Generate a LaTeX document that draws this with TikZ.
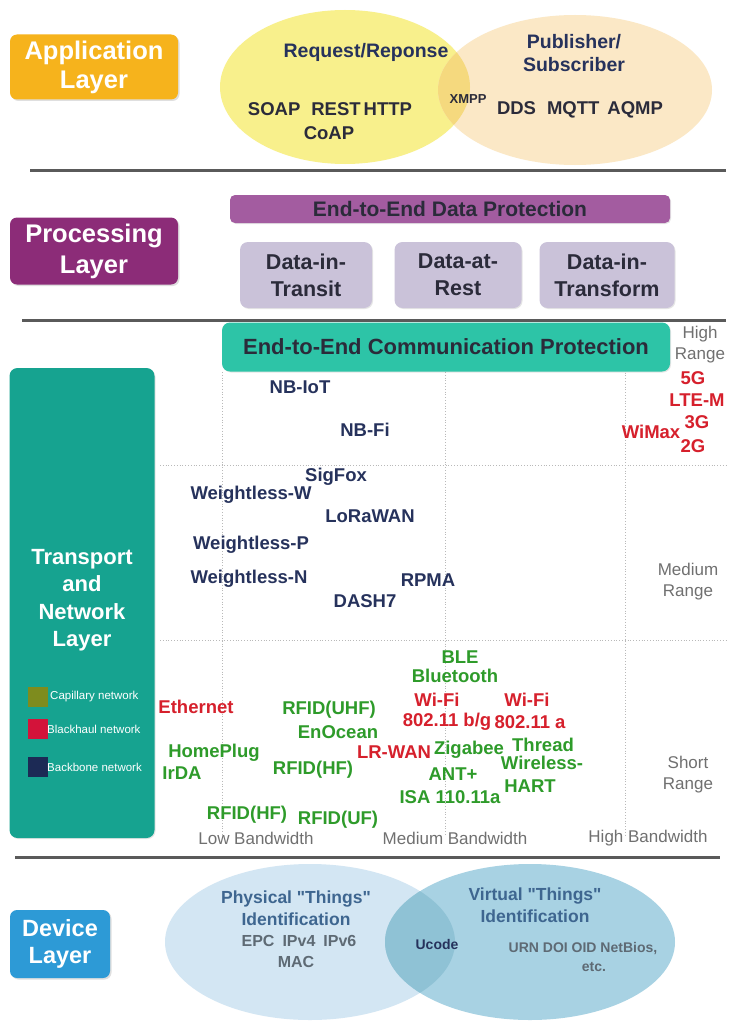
\documentclass[tikz,border=0pt]{standalone}
\usepackage{fontspec}
\setmainfont{Liberation Sans}
\usetikzlibrary{shadows}
\definecolor{appor}{HTML}{F6B31C}
\definecolor{procp}{HTML}{8C2C78}
\definecolor{barp}{HTML}{A35CA0}
\definecolor{datab}{HTML}{CAC2D9}
\definecolor{teal1}{HTML}{16A390}
\definecolor{teal2}{HTML}{2DC4A7}
\definecolor{devb}{HTML}{2D9AD6}
\definecolor{ely}{HTML}{F8F08C}
\definecolor{elp}{HTML}{FBE8C6}
\definecolor{elo}{HTML}{F5D97E}
\definecolor{dl}{HTML}{D3E6F3}
\definecolor{dr}{HTML}{A8D2E3}
\definecolor{dov}{HTML}{8FC2D5}
\definecolor{navy}{HTML}{26325C}
\definecolor{grn}{HTML}{2E9B2A}
\definecolor{redt}{HTML}{D6202C}
\definecolor{gryt}{HTML}{707070}
\definecolor{dtitle}{HTML}{3E6690}
\definecolor{dtext}{HTML}{5E6A74}
\definecolor{sepc}{HTML}{5A5A5A}
\definecolor{dark}{HTML}{2B2B3A}
\definecolor{olv}{HTML}{7E8C1E}
\definecolor{lred}{HTML}{D3133A}
\definecolor{lnavy}{HTML}{1C2A55}
\begin{document}
\begin{tikzpicture}[x=1pt,y=-1pt,
  layerbox/.style={rounded corners=7pt, text=white, align=center, inner sep=0pt,
    font=\bfseries\fontsize{25.5}{29}\selectfont,
    drop shadow={opacity=0.25, shadow xshift=1.5pt, shadow yshift=-1.5pt}},
  databox/.style={rounded corners=8pt, fill=datab, text=dark, align=center, inner sep=0pt,
    font=\bfseries\fontsize{21.5}{27}\selectfont,
    drop shadow={opacity=0.2, shadow xshift=1pt, shadow yshift=-1pt}},
  lbl/.style={font=\bfseries\fontsize{18.5}{21}\selectfont, inner sep=0pt, align=center},
  nv/.style={lbl, text=navy},
  gr/.style={lbl, text=grn},
  rd/.style={lbl, text=redt},
  gy/.style={font=\fontsize{17}{21}\selectfont, text=gryt, align=center, inner sep=0pt},
  sepline/.style={line width=3pt, sepc},
  grid/.style={dotted, line width=0.8pt, gray!55},
  legsq/.style={minimum width=20pt, minimum height=20pt, inner sep=0pt},
  leglbl/.style={anchor=west, text=white, inner sep=0pt, font=\fontsize{11.5}{13}\selectfont},
  apptxt/.style={font=\bfseries\fontsize{19.5}{23}\selectfont, text=navy, align=center, inner sep=0pt},
  apptxt2/.style={font=\bfseries\fontsize{18.5}{24}\selectfont, text=dark, align=center, inner sep=0pt},
  devtitle/.style={font=\bfseries\fontsize{17.5}{22}\selectfont, text=dtitle, align=center, inner sep=0pt},
  devtxt/.style={font=\bfseries\fontsize{16}{20}\selectfont, text=dtext, align=center, inner sep=0pt}
]
\useasboundingbox (0,0) rectangle (731,1022);
\fill[white] (0,0) rectangle (731,1022);

% ---------------- Application layer
\fill[ely] (345,87) ellipse [x radius=125pt, y radius=77pt];
\fill[elp] (575,90) ellipse [x radius=137pt, y radius=75pt];
\begin{scope}
  \clip (345,87) ellipse [x radius=125pt, y radius=77pt];
  \fill[elo] (575,90) ellipse [x radius=137pt, y radius=75pt];
\end{scope}
\node[layerbox, fill=appor, minimum width=168pt, minimum height=65pt] (app) at (94,67) {Application\\Layer};
\node[apptxt] (reqres) at (366,52) {Request/Reponse};
\node[apptxt] (pubsub) at (574,53) {Publisher/\\Subscriber};
\node[apptxt2] (soap) at (330,109) {SOAP\hspace{11pt}REST\hspace{3pt}HTTP};
\node[apptxt2] (coap) at (329,133) {CoAP};
\node[apptxt2, font=\bfseries\fontsize{13}{14}\selectfont] (xmpp) at (468,99) {XMPP};
\node[apptxt2] (dds) at (580,110) {DDS\hspace{11pt}MQTT\hspace{8pt}AQMP};
\coordinate (s1a) at (30,170);
\coordinate (s1b) at (726,170);
\draw[sepline] (s1a) -- (s1b);

% ---------------- Processing layer
\node[layerbox, fill=procp, minimum width=168pt, minimum height=67pt, font=\bfseries\fontsize{25.5}{31}\selectfont] (proc) at (94,251) {Processing\\Layer};
\node[rounded corners=5pt, fill=barp, text=dark, inner sep=0pt, minimum width=440pt, minimum height=28pt,
  font=\bfseries\fontsize{21}{24}\selectfont,
  drop shadow={opacity=0.2, shadow xshift=1pt, shadow yshift=-1pt}] (e2ed) at (450,209) {End-to-End Data Protection};
\node[databox, minimum width=132pt, minimum height=66pt] (transit) at (306,275) {Data-in-\\Transit};
\node[databox, minimum width=127pt, minimum height=66pt] (rest) at (458,275) {Data-at-\\Rest};
\node[databox, minimum width=135pt, minimum height=66pt] (transform) at (607,275) {Data-in-\\Transform};
\coordinate (s2a) at (22,320);
\coordinate (s2b) at (726,320);
\draw[sepline] (s2a) -- (s2b);

% ---------------- Transport and network layer
\coordinate (v1t) at (222,372);
\coordinate (v1b) at (222,835);
\coordinate (v2t) at (445,372);
\coordinate (v2b) at (445,835);
\coordinate (v3t) at (625,325);
\coordinate (v3b) at (625,835);
\coordinate (h1a) at (160,465);
\coordinate (h1b) at (726,465);
\coordinate (h2a) at (160,640);
\coordinate (h2b) at (726,640);
\draw[grid] (v1t) -- (v1b);
\draw[grid] (v2t) -- (v2b);
\draw[grid] (v3t) -- (v3b);
\draw[grid] (h1a) -- (h1b);
\draw[grid] (h2a) -- (h2b);

\node[rounded corners=8pt, fill=teal1, minimum width=145pt, minimum height=470pt, inner sep=0pt,
  drop shadow={opacity=0.2, shadow xshift=1pt, shadow yshift=-1pt}] (tnl) at (82,603) {};
\node[text=white, align=center, inner sep=0pt, font=\bfseries\fontsize{22}{27.5}\selectfont] (tnltxt) at (82,600) {Transport\\and\\Network\\Layer};
\node[legsq, fill=olv] (sq1) at (38,697) {};
\node[legsq, fill=lred] (sq2) at (38,729) {};
\node[legsq, fill=lnavy] (sq3) at (38,767) {};
\node[leglbl] (lg1) at (50,697) {Capillary network};
\node[leglbl] (lg2) at (47,729) {Blackhaul network};
\node[leglbl] (lg3) at (47,767) {Backbone network};

\node[rounded corners=8pt, fill=teal2, text=dark, inner sep=0pt, minimum width=448pt, minimum height=49pt,
  font=\bfseries\fontsize{22}{25}\selectfont,
  drop shadow={opacity=0.2, shadow xshift=1pt, shadow yshift=-1pt}] (e2ec) at (446,347) {End-to-End Communication Protection};

\node[gy] (hr) at (700,345) {High\\Range};
\node[gy] (mr) at (688,582) {Medium\\Range};
\node[gy] (sr) at (688,775) {Short\\Range};
\node[gy] (lbw) at (256,838) {Low Bandwidth};
\node[gy] (mbw) at (455,838) {Medium Bandwidth};
\node[gy] (hbw) at (648,838) {High Bandwidth};

% high range
\node[rd] (g5) at (693,378) {5G};
\node[rd] (ltem) at (697,400) {LTE-M};
\node[rd] (g3) at (697,422) {3G};
\node[rd] (wimax) at (651,432) {WiMax};
\node[rd] (g2) at (693,446) {2G};
\node[nv] (nbiot) at (300,387) {NB-IoT};
\node[nv] (nbfi) at (365,430) {NB-Fi};

% medium range
\node[nv] (sigfox) at (336,477) {SigFox};
\node[nv] (wlw) at (251,495) {Weightless-W};
\node[nv] (lora) at (370,516) {LoRaWAN};
\node[nv] (wlp) at (251,545) {Weightless-P};
\node[nv] (wln) at (249,579) {Weightless-N};
\node[nv] (rpma) at (428,580) {RPMA};
\node[nv] (dash7) at (365,601) {DASH7};

% short range
\node[gr] (ble) at (460,657) {BLE};
\node[gr] (bt) at (455,676) {Bluetooth};
\node[rd] (eth) at (196,707) {Ethernet};
\node[gr] (uhf) at (329,710) {RFID(UHF)};
\node[rd] (wifi1) at (437,700) {Wi-Fi};
\node[rd] (w80211bg) at (447,722) {802.11 b/g};
\node[rd] (wifi2) at (527,700) {Wi-Fi};
\node[rd] (w80211a) at (530,722) {802.11 a};
\node[gr] (enocean) at (338,732) {EnOcean};
\node[gr] (homeplug) at (214,753) {HomePlug};
\node[gr] (irda) at (182,773) {IrDA};
\node[gr] (rfidhf1) at (313,770) {RFID(HF)};
\node[rd] (lrwan) at (394,752) {LR-WAN};
\node[gr] (zigbee) at (469,750) {Zigabee};
\node[gr] (thread) at (543,745) {Thread};
\node[gr] (wireless) at (542,763) {Wireless-};
\node[gr] (antp) at (453,774) {ANT+};
\node[gr] (hart) at (530,786) {HART};
\node[gr] (isa) at (450,797) {ISA 110.11a};
\node[gr] (rfidhf2) at (247,815) {RFID(HF)};
\node[gr] (rfiduf) at (338,820) {RFID(UF)};

\coordinate (s3a) at (15,857);
\coordinate (s3b) at (720,857);
\draw[sepline] (s3a) -- (s3b);

% ---------------- Device layer
\fill[dl] (310,942) ellipse [x radius=145pt, y radius=78pt];
\fill[dr] (530,942) ellipse [x radius=145pt, y radius=78pt];
\begin{scope}
  \clip (310,942) ellipse [x radius=145pt, y radius=78pt];
  \fill[dov] (530,942) ellipse [x radius=145pt, y radius=78pt];
\end{scope}
\node[layerbox, fill=devb, minimum width=100pt, minimum height=68pt, font=\bfseries\fontsize{23.5}{27}\selectfont] (dev) at (60,944) {Device\\Layer};
\node[devtitle] (phys) at (296,908) {Physical \textquotedbl Things\textquotedbl\\Identification};
\node[devtxt] (epc) at (299,941) {EPC\hspace{8pt}IPv4\hspace{8pt}IPv6};
\node[devtxt] (mac) at (296,962) {MAC};
\node[devtitle] (virt) at (535,905) {Virtual \textquotedbl Things\textquotedbl\\Identification};
\node[devtxt, font=\bfseries\fontsize{14}{15}\selectfont, text=navy] (ucode) at (437,944) {Ucode};
\node[devtxt, font=\bfseries\fontsize{14}{19}\selectfont] (urn) at (583,957) {URN DOI OID NetBios,\\\hspace*{22pt}etc.};
\end{tikzpicture}
\end{document}
